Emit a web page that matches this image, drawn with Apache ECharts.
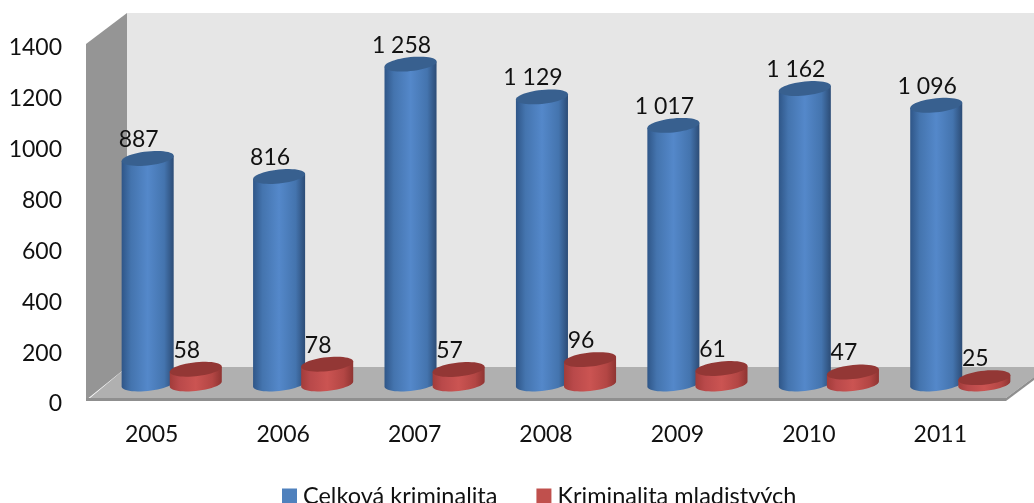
<!DOCTYPE html>
<html>
<head>
<meta charset="utf-8">
<style>
html, body { margin: 0; padding: 0; background: #fff; overflow: hidden; }
#chart { width: 1034px; height: 503px; }
</style>
<script src="https://cdn.jsdelivr.net/npm/echarts@6/dist/echarts.min.js"></script>
</head>
<body>
<div id="chart"></div>
<script>
const years = ['2005', '2006', '2007', '2008', '2009', '2010', '2011'];
const celkova = [887, 816, 1258, 1129, 1017, 1162, 1096];
const mladistvych = [58, 78, 57, 96, 61, 47, 25];
const yTicks = [0, 200, 400, 600, 800, 1000, 1200, 1400];

const FONT = 'Lato, sans-serif';
const FONT_SIZE = 23;

// bars stand in the middle of the floor, so they are shifted from the front plane
const DEPTH_X = 20;
const DEPTH_Y = -16;
const BAR_W = 0.396;    // share of the category band
const BAR_OFFSET = 0.183;
const RY = 7;
const TILT = -0.1;

const blue = { edgeL: '#2f5688', midL: '#4474ae', mid: '#5488ca', midR: '#4474ae', edgeR: '#2c4c76', top: '#38608f' };
const red = { edgeL: '#a23c3a', midL: '#b9494a', mid: '#cb5452', midR: '#b34644', edgeR: '#8f3432', top: '#933735' };

function ellipsePoint(cx, cy, rx, angle) {
  const x = rx * Math.cos(angle);
  const y = RY * Math.sin(angle);
  return [cx + x, cy + y + x * TILT];
}

function ellipsePoints(cx, cy, rx) {
  const pts = [];
  for (let i = 0; i < 48; i++) {
    pts.push(ellipsePoint(cx, cy, rx, i / 48 * Math.PI * 2));
  }
  return pts;
}

function cylinder(colors, sign, values) {
  return function (params, api) {
    const band = api.size([1, 0])[0];
    const val = values[params.dataIndex];
    const cx = api.coord([params.dataIndex, 0])[0] + DEPTH_X + sign * BAR_OFFSET * band;
    const yBase = api.coord([params.dataIndex, 0])[1] + DEPTH_Y;
    const yTop = api.coord([params.dataIndex, val])[1] + DEPTH_Y;
    const rx = BAR_W * band / 2;

    const body = [ellipsePoint(cx, yTop, rx, Math.PI)];
    for (let i = 0; i <= 24; i++) {
      body.push(ellipsePoint(cx, yBase, rx, Math.PI - i / 24 * Math.PI));
    }
    body.push(ellipsePoint(cx, yTop, rx, 0));

    return {
      type: 'group',
      children: [
        {
          type: 'polygon',
          shape: { points: body },
          style: {
            fill: new echarts.graphic.LinearGradient(0, 0, 1, 0, [
              { offset: 0, color: colors.edgeL },
              { offset: 0.18, color: colors.midL },
              { offset: 0.5, color: colors.mid },
              { offset: 0.82, color: colors.midR },
              { offset: 1, color: colors.edgeR }
            ])
          }
        },
        {
          type: 'polygon',
          shape: { points: ellipsePoints(cx, yTop, rx) },
          style: { fill: colors.top }
        },
        {
          type: 'text',
          style: {
            text: val >= 1000 ? String(val).replace(/^(\d)/, '$1 ') : String(val),
            x: cx - 9,
            y: yTop - 19,
            fill: '#111',
            font: FONT_SIZE + 'px ' + FONT,
            align: 'center',
            verticalAlign: 'middle'
          }
        }
      ]
    };
  };
}

const chart = echarts.init(document.getElementById('chart'), null, { renderer: 'canvas' });
chart.setOption({
  animation: false,
  backgroundColor: '#fff',
  textStyle: { fontFamily: FONT },
  grid: { left: 86, right: 28, top: 44, bottom: 103, containLabel: false },
  graphic: [
    { type: 'rect', z: 0, shape: { x: 127, y: 13, width: 907, height: 356 }, style: { fill: '#e6e6e6' } },
    { type: 'polygon', z: 0, shape: { points: [[86, 44], [127, 13], [127, 367], [86, 400]] }, style: { fill: '#959595' } },
    { type: 'polygon', z: 0, shape: { points: [[127, 367], [1034, 367], [1034, 377], [1006, 398], [90, 398]] }, style: { fill: '#b0b0b0' } },
    { type: 'rect', z: 0, shape: { x: 86, y: 398, width: 920, height: 3 }, style: { fill: '#8f8f8f' } },
    { type: 'polygon', z: 0, shape: { points: [[1006, 398], [1034, 377], [1034, 380], [1006, 401]] }, style: { fill: '#8f8f8f' } }
  ],
  xAxis: {
    type: 'category',
    data: years,
    axisLine: { show: false },
    axisTick: { show: false },
    axisLabel: { color: '#111', fontSize: FONT_SIZE, fontFamily: FONT, margin: 23 }
  },
  yAxis: {
    type: 'value',
    min: yTicks[0],
    max: yTicks[yTicks.length - 1],
    interval: 200,
    axisLine: { show: false },
    axisTick: { show: false },
    splitLine: { show: false },
    // labels sit a few px below their tick in the reference
    axisLabel: { color: '#111', fontSize: FONT_SIZE, fontFamily: FONT, margin: 24, verticalAlign: 'top', lineHeight: 8, formatter: v => String(v) }
  },
  legend: {
    left: 277,
    top: 479,
    itemWidth: 15,
    itemHeight: 15,
    itemGap: 39,
    icon: 'rect',
    textStyle: { color: '#111', fontSize: 23.5, fontFamily: FONT, padding: [0, 0, 0, 1] },
    data: ['Celková kriminalita', 'Kriminalita mladistvých']
  },
  series: [
    {
      type: 'custom',
      name: 'Celková kriminalita',
      z: 3,
      itemStyle: { color: '#4f81bd' },
      renderItem: cylinder(blue, -1, celkova),
      encode: { x: 0, y: 1 },
      data: celkova.map((v, i) => [i, v])
    },
    {
      type: 'custom',
      name: 'Kriminalita mladistvých',
      z: 4,
      itemStyle: { color: '#c0504d' },
      renderItem: cylinder(red, 1, mladistvych),
      encode: { x: 0, y: 1 },
      data: mladistvych.map((v, i) => [i, v])
    }
  ]
});
</script>
</body>
</html>
